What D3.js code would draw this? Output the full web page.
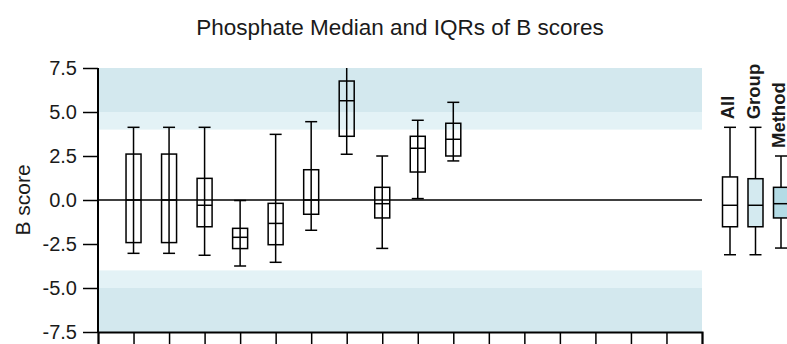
<!DOCTYPE html>
<html>
<head>
<meta charset="utf-8">
<script src="https://cdn.jsdelivr.net/npm/d3@7"></script>
<style>
body { margin: 0; background: #fff; }
text { font-family: "Liberation Sans", Arial, sans-serif; fill: #1a1a1a; }
</style>
</head>
<body>
<svg class="chart" width="787" height="344"></svg>
<script>
// box data, one entry per plate position
var positions   = [1, 2, 3, 4, 5, 6, 7, 8, 9, 10];
var whiskerHigh = [4.13, 4.13, 4.13, -0.03, 3.73, 4.45, 8.0, 2.5, 4.53, 5.55];
var q3          = [2.61, 2.61, 1.23, -1.61, -0.19, 1.72, 6.76, 0.72, 3.62, 4.36];
var medians     = [0, 0, -0.30, -2.12, -1.33, 0, 5.64, -0.21, 2.94, 3.45];
var q1          = [-2.42, -2.42, -1.52, -2.76, -2.54, -0.81, 3.62, -1.02, 1.59, 2.5];
var whiskerLow  = [-3.03, -3.03, -3.14, -3.75, -3.54, -1.72, 2.6, -2.75, 0.08, 2.22];

// summary boxes on the right
var summaryNames = ["All", "Group", "Method"];
var summaryHigh  = [4.13, 4.13, 2.5];
var summaryQ3    = [1.31, 1.21, 0.72];
var summaryMed   = [-0.30, -0.30, -0.21];
var summaryQ1    = [-1.52, -1.52, -1.02];
var summaryLow   = [-3.11, -3.11, -2.73];
var summaryFill  = ["#ffffff", "#d4eaf0", "#b3dbe5"];

// shaded bands
var bands = [
  {lo: 5, hi: 7.5, color: "#d3e8ee"},
  {lo: 4, hi: 5, color: "#e3f2f6"},
  {lo: -5, hi: -4, color: "#e3f2f6"},
  {lo: -7.5, hi: -5, color: "#d3e8ee"}
];
var yTicks = [-7.5, -5, -2.5, 0, 2.5, 5, 7.5];

var svg = d3.select(".chart");
var margin = {top: 68, right: 85, bottom: 12, left: 98},
    width = svg.attr("width") - margin.left - margin.right,
    height = svg.attr("height") - margin.top - margin.bottom;

var x = d3.scaleLinear().domain([0, 17]).range([0, width]);
var y = d3.scaleLinear().domain([-7.5, 7.5]).range([height, 0]);
var xs = d3.scalePoint().domain(summaryNames).range([width + 28, width + 79]);

var boxW = 15, capW = 12;

var g = svg.append("g")
    .attr("transform", "translate(" + margin.left + "," + margin.top + ")");

svg.append("defs").append("clipPath").attr("id", "clip")
  .append("rect").attr("width", width).attr("height", height);

// title
svg.append("text")
    .attr("x", 400).attr("y", 35)
    .attr("text-anchor", "middle")
    .style("font-size", "22.5px")
    .text("Phosphate Median and IQRs of B scores");

// bands
g.selectAll(".band")
    .data(bands)
  .enter().append("rect")
    .attr("x", 0)
    .attr("width", width)
    .attr("y", function(d) { return y(d.hi); })
    .attr("height", function(d) { return y(d.lo) - y(d.hi); })
    .style("fill", function(d) { return d.color; });

// zero line
g.append("line")
    .attr("x1", 0).attr("x2", width)
    .attr("y1", y(0)).attr("y2", y(0))
    .style("stroke", "#000").style("stroke-width", 1.5);

function drawBoxes(sel, cx, fill) {
  sel.append("line")
      .attr("x1", cx).attr("x2", cx)
      .attr("y1", function(d) { return y(d.hi); })
      .attr("y2", function(d) { return y(d.lo); });
  sel.append("line")
      .attr("x1", function(d) { return cx(d) - capW / 2; })
      .attr("x2", function(d) { return cx(d) + capW / 2; })
      .attr("y1", function(d) { return y(d.hi); })
      .attr("y2", function(d) { return y(d.hi); });
  sel.append("line")
      .attr("x1", function(d) { return cx(d) - capW / 2; })
      .attr("x2", function(d) { return cx(d) + capW / 2; })
      .attr("y1", function(d) { return y(d.lo); })
      .attr("y2", function(d) { return y(d.lo); });
  sel.append("rect")
      .attr("x", function(d) { return cx(d) - boxW / 2; })
      .attr("width", boxW)
      .attr("y", function(d) { return y(d.q3); })
      .attr("height", function(d) { return y(d.q1) - y(d.q3); })
      .style("fill", fill);
  sel.append("line")
      .attr("x1", function(d) { return cx(d) - boxW / 2; })
      .attr("x2", function(d) { return cx(d) + boxW / 2; })
      .attr("y1", function(d) { return y(d.med); })
      .attr("y2", function(d) { return y(d.med); });
  sel.selectAll("line, rect").style("stroke", "#000").style("stroke-width", 1.5);
}

var data = positions.map(function(p, i) {
  return {pos: p, hi: whiskerHigh[i], q3: q3[i], med: medians[i], q1: q1[i], lo: whiskerLow[i]};
});

var boxes = g.append("g").attr("clip-path", "url(#clip)")
  .selectAll(".box")
    .data(data)
  .enter().append("g").attr("class", "box");
drawBoxes(boxes, function(d) { return x(d.pos); }, "none");

var sdata = summaryNames.map(function(n, i) {
  return {name: n, hi: summaryHigh[i], q3: summaryQ3[i], med: summaryMed[i], q1: summaryQ1[i], lo: summaryLow[i], fill: summaryFill[i]};
});
var sboxes = g.selectAll(".sbox")
    .data(sdata)
  .enter().append("g").attr("class", "sbox");
drawBoxes(sboxes, function(d) { return xs(d.name); }, function(d) { return d.fill; });

// summary labels
sboxes.append("text")
    .attr("transform", function(d) {
      return "translate(" + (xs(d.name) + 4) + "," + (y(d.hi) - 8) + ") rotate(-90)";
    })
    .style("font-size", "18.5px")
    .style("font-weight", "bold")
    .text(function(d) { return d.name; });

// x axis
var xAxis = d3.axisBottom(x)
    .tickValues(d3.range(0, 18))
    .tickSize(14)
    .tickFormat("");
g.append("g")
    .attr("transform", "translate(0," + height + ")")
    .call(xAxis)
    .call(function(a) {
      a.select(".domain").style("stroke", "#000").style("stroke-width", 2);
      a.selectAll(".tick line").style("stroke", "#000").style("stroke-width", 1.5);
    });

// y axis
var yAxis = d3.axisLeft(y)
    .tickValues(yTicks)
    .tickSize(15)
    .tickPadding(6)
    .tickFormat(function(d) { return d.toFixed(1); });
g.append("g")
    .call(yAxis)
    .call(function(a) {
      a.select(".domain").attr("d", "M0," + (height + 1) + "V0").style("stroke", "#000").style("stroke-width", 2);
      a.selectAll(".tick line").style("stroke", "#000").style("stroke-width", 1.5);
      a.selectAll(".tick text").style("font-size", "20px").style("font-family", "Liberation Sans, Arial, sans-serif").style("fill", "#1a1a1a");
    });

svg.append("text")
    .attr("transform", "translate(30," + (margin.top + y(0)) + ") rotate(-90)")
    .attr("text-anchor", "middle")
    .style("font-size", "21px")
    .text("B score");
</script>
</body>
</html>
